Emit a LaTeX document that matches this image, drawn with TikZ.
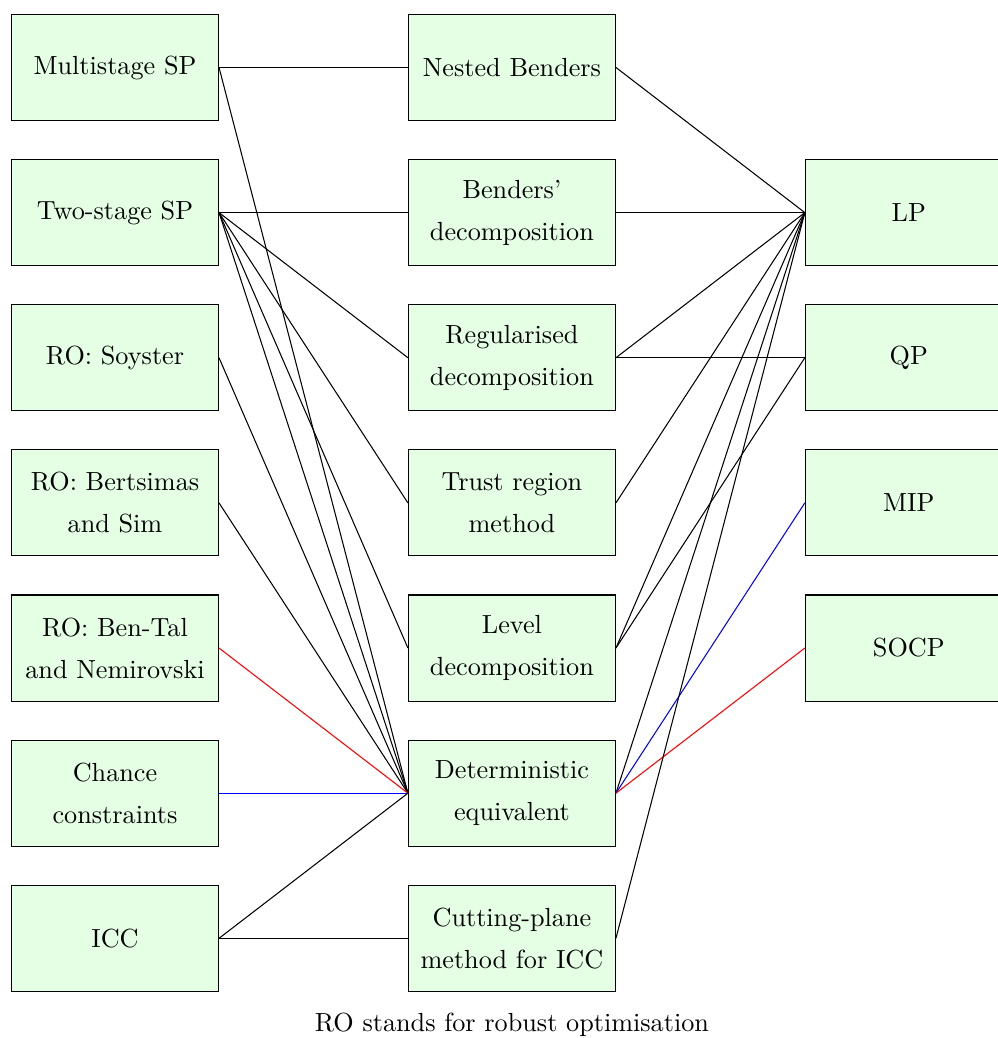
\documentclass[tikz,border=0pt]{standalone}
\usetikzlibrary{positioning}

\begin{document}
\begin{tikzpicture}[
  method/.style={draw, fill=green!10, minimum width=79pt, minimum height=40.5pt,
    align=center, font=\fontsize{10}{16}\selectfont},
  node distance=14.5pt and 72.1pt]

  \useasboundingbox (-4.2pt,5.3pt) rectangle (376.7pt,-390.9pt);

  % problem classes
  \node[method, anchor=north west] (ms) at (0,0) {Multistage SP};
  \node[method, below=of ms] (ts) {Two-stage SP};
  \node[method, below=of ts] (soy) {RO: Soyster};
  \node[method, below=of soy] (bs) {RO: Bertsimas\\and Sim};
  \node[method, below=of bs] (btn) {RO: Ben-Tal\\and Nemirovski};
  \node[method, below=of btn] (cc) {Chance\\constraints};
  \node[method, below=of cc] (icc) {ICC};

  % solution methods
  \node[method, right=of ms] (nb) {Nested Benders};
  \node[method, right=of ts] (bd) {Benders'\\decomposition};
  \node[method, right=of soy] (rd) {Regularised\\decomposition};
  \node[method, right=of bs] (tr) {Trust region\\method};
  \node[method, right=of btn] (ld) {Level\\decomposition};
  \node[method, right=of cc] (de) {Deterministic\\equivalent};
  \node[method, right=of icc] (cp) {Cutting-plane\\method for ICC};

  % solvers
  \node[method, right=of bd] (lp) {LP};
  \node[method, right=of rd] (qp) {QP};
  \node[method, right=of tr] (mip) {MIP};
  \node[method, right=of ld] (socp) {SOCP};

  \node[below=4.5pt of cp] (note) {RO stands for robust optimisation};

  \path[draw] (ms.east) to (nb.west);
  \path[draw] (ms.east) to (de.west);
  \path[draw] (ts.east) to (bd.west);
  \path[draw] (ts.east) to (rd.west);
  \path[draw] (ts.east) to (tr.west);
  \path[draw] (ts.east) to (ld.west);
  \path[draw] (ts.east) to (de.west);
  \path[draw] (soy.east) to (de.west);
  \path[draw] (bs.east) to (de.west);
  \path[draw, red] (btn.east) to (de.west);
  \path[draw, blue] (cc.east) to (de.west);
  \path[draw] (icc.east) to (de.west);
  \path[draw] (icc.east) to (cp.west);

  \path[draw] (nb.east) to (lp.west);
  \path[draw] (bd.east) to (lp.west);
  \path[draw] (rd.east) to (lp.west);
  \path[draw] (rd.east) to (qp.west);
  \path[draw] (tr.east) to (lp.west);
  \path[draw] (ld.east) to (lp.west);
  \path[draw] (ld.east) to (qp.west);
  \path[draw] (de.east) to (lp.west);
  \path[draw, blue] (de.east) to (mip.west);
  \path[draw, red] (de.east) to (socp.west);
  \path[draw] (cp.east) to (lp.west);

\end{tikzpicture}
\end{document}
